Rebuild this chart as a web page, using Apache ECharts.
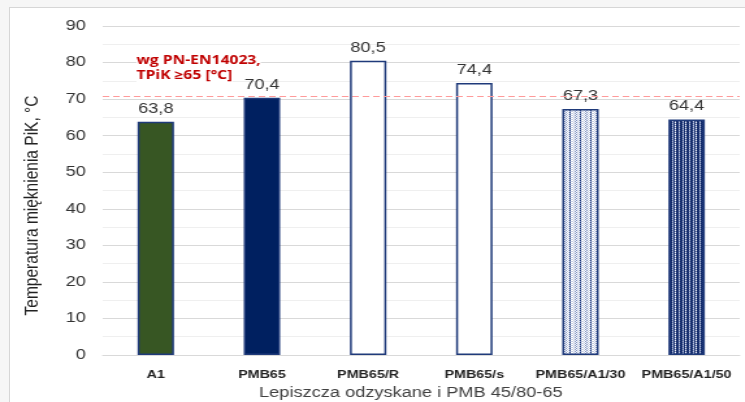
<!DOCTYPE html>
<html>
<head>
<meta charset="utf-8">
<script src="https://cdn.jsdelivr.net/npm/echarts@6/dist/echarts.min.js"></script>
<style>
  html, body { margin: 0; padding: 0; background: #f6f6f6; overflow: hidden; }
  #frame { position: absolute; left: 9px; top: 7px; width: 736px; height: 395px;
           background: #fff; border-left: 1px solid #d6d6d6; border-top: 1px solid #d6d6d6; }
  /* the chart is laid out narrow and widened horizontally */
  #chart { position: absolute; left: 0; top: 0; width: 573px; height: 402px;
           transform: scaleX(1.3); transform-origin: 0 0; }
</style>
</head>
<body>
<div id="frame"></div>
<div id="chart"></div>
<script>
// Softening point (ring & ball) of recovered binders and PMB 45/80-65
const categories = ['A1', 'PMB65', 'PMB65/R', 'PMB65/s', 'PMB65/A1/30', 'PMB65/A1/50'];
const values = [63.8, 70.4, 80.5, 74.4, 67.3, 64.4];
const requirement = 70.8;   // PN-EN 14023 threshold line
const yTicks = { min: 0, max: 90, interval: 10 };
const noteLines = ['wg PN-EN14023,', 'TPiK ≥65 [°C]'];

// striped fills for the blended binders
function stripe(cols, rows) {
  const c = document.createElement('canvas');
  c.width = cols[0].length; c.height = rows;
  const ctx = c.getContext('2d');
  for (let r = 0; r < rows; r++) {
    for (let x = 0; x < cols[0].length; x++) {
      ctx.fillStyle = cols[r % cols.length][x];
      ctx.fillRect(x, r, 1, 1);
    }
  }
  return c;
}
const W = '#ffffff', L = '#c5cde3', M = '#7d8fbf', N = '#1f3a7a', D = '#0f2462';
const lightPattern = stripe([
  [W, L, W, M, W, L, N, W],
  [L, W, M, W, L, W, M, L]
], 2);
const darkPattern = stripe([
  [N, D, L, N, D, M, N, W],
  [D, N, M, D, N, L, D, M]
], 2);

const fills = ['#375623', '#002060', '#ffffff', '#ffffff',
  { image: lightPattern, repeat: 'repeat' },
  { image: darkPattern, repeat: 'repeat' }];

const chart = echarts.init(document.getElementById('chart'), null, { renderer: 'canvas' });
chart.setOption({
  backgroundColor: 'transparent',
  animation: false,
  grid: { left: 79, right: 4, top: 26, bottom: 47, containLabel: false, outerBoundsMode: 'none' },
  xAxis: {
    type: 'category',
    data: categories,
    name: 'Lepiszcza odzyskane i PMB 45/80-65',
    nameLocation: 'middle',
    nameGap: 31,
    nameTextStyle: { fontFamily: 'Liberation Sans', fontSize: 14, color: '#404040', padding: [0, 16, 0, 0] },
    axisLine: { lineStyle: { color: '#d9d9d9', width: 1 } },
    axisTick: { show: false },
    axisLabel: { interval: 0, fontFamily: 'Liberation Sans', fontSize: 11, fontWeight: 'bold', color: '#222', margin: 14 }
  },
  yAxis: {
    type: 'value',
    min: yTicks.min, max: yTicks.max, interval: yTicks.interval,
    name: 'Temperatura mięknienia PiK, °C',
    nameLocation: 'middle',
    nameGap: 46,
    nameTextStyle: { fontFamily: 'Liberation Sans', fontSize: 15.5, color: '#222', padding: [0, 30, 0, 0] },
    axisLine: { show: false },
    axisTick: { show: false },
    axisLabel: { fontFamily: 'Liberation Sans', fontSize: 14, color: '#333', margin: 13 },
    splitLine: { lineStyle: { color: '#d9d9d9', width: 1 } },
    minorTick: { show: false, splitNumber: 2 },
    minorSplitLine: { show: true, lineStyle: { color: '#efefef', width: 1 } }
  },
  series: [{
    type: 'bar',
    data: values.map((v, i) => ({
      value: v,
      itemStyle: { color: fills[i], borderColor: '#1f3a7a', borderWidth: 1.5 }
    })),
    barWidth: 28,
    label: {
      show: true, position: 'top', distance: 6,
      fontFamily: 'Liberation Sans', fontSize: 14, color: '#333',
      formatter: p => String(p.value).replace('.', ',')
    },
    markLine: {
      silent: true, symbol: 'none',
      label: { show: false },
      lineStyle: { color: '#ff9a9a', type: [5, 3], width: 1.2 },
      data: [{ yAxis: requirement }]
    }
  }],
  graphic: noteLines.map((t, i) => ({
    type: 'text', left: 105, top: 54 + i * 14.5, z: 1,
    style: {
      text: t, font: 'bold 12px "Open Sans"', fill: '#c00000',
      lineHeight: 14, backgroundColor: '#ffffff'
    }
  }))
});
</script>
</body>
</html>
